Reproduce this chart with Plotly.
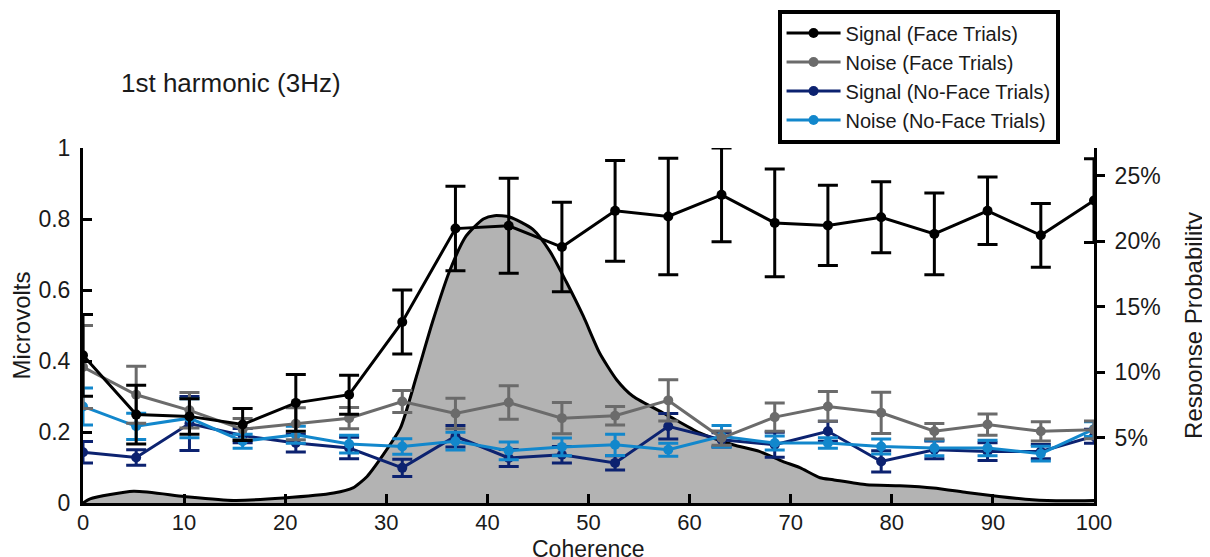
import plotly.graph_objects as go

# Coherence levels (x)
coherence = [0, 5.26, 10.53, 15.79, 21.05, 26.32, 31.58, 36.84, 42.11, 47.37,
             52.63, 57.89, 63.16, 68.42, 73.68, 78.95, 84.21, 89.47, 94.74, 100]

# Microvolts (left axis)
signal_face = [0.416, 0.249, 0.244, 0.221, 0.282, 0.305, 0.510, 0.773, 0.781, 0.721,
               0.823, 0.807, 0.868, 0.789, 0.782, 0.805, 0.758, 0.823, 0.754, 0.852]
signal_face_err = [0.115, 0.083, 0.050, 0.045, 0.080, 0.055, 0.090, 0.119, 0.134, 0.126,
                   0.142, 0.164, 0.132, 0.152, 0.113, 0.100, 0.115, 0.095, 0.090, 0.118]

noise_face = [0.383, 0.305, 0.261, 0.208, 0.223, 0.239, 0.286, 0.252, 0.283, 0.239,
              0.246, 0.289, 0.183, 0.242, 0.272, 0.254, 0.202, 0.221, 0.202, 0.206]
noise_face_err = [0.117, 0.080, 0.050, 0.030, 0.045, 0.030, 0.031, 0.043, 0.047, 0.044,
                  0.026, 0.058, 0.020, 0.040, 0.042, 0.058, 0.022, 0.030, 0.027, 0.025]

signal_noface = [0.143, 0.128, 0.224, 0.190, 0.169, 0.155, 0.099, 0.188, 0.127, 0.136,
                 0.113, 0.216, 0.178, 0.164, 0.202, 0.117, 0.150, 0.145, 0.145, 0.188]
signal_noface_err = [0.030, 0.022, 0.076, 0.020, 0.025, 0.030, 0.024, 0.030, 0.024, 0.023,
                     0.020, 0.036, 0.020, 0.035, 0.028, 0.030, 0.025, 0.025, 0.020, 0.020]

noise_noface = [0.272, 0.216, 0.239, 0.174, 0.192, 0.166, 0.159, 0.174, 0.147, 0.158,
                0.164, 0.150, 0.188, 0.169, 0.169, 0.159, 0.155, 0.155, 0.139, 0.208]
noise_noface_err = [0.052, 0.037, 0.055, 0.020, 0.024, 0.025, 0.022, 0.025, 0.025, 0.025,
                    0.030, 0.018, 0.030, 0.020, 0.015, 0.021, 0.022, 0.022, 0.021, 0.021]

# Response probability density (right axis, %)
prob_x = [0, 0.7, 5, 10, 14.9, 19.8, 24.8, 26.7, 28.1, 29.7, 31.4, 33, 34.6, 36.3, 37.9,
          39.6, 40.7, 42.2, 44.5, 46.2, 47.8, 49.5, 51.1, 52.8, 54.4, 57.7, 61, 64.3,
          66.9, 69.2, 70.9, 72.9, 74.2, 77.5, 80.8, 84.1, 87.4, 90.6, 93.9, 97.2, 100]
prob_pct = [0, 0.31, 0.89, 0.50, 0.20, 0.38, 0.76, 1.15, 2.03, 3.69, 5.73, 9.72, 13.9,
            17.8, 20.4, 21.7, 21.95, 21.85, 20.9, 19.2, 16.9, 14.25, 11.46, 9.4, 8.15,
            6.75, 5.35, 4.45, 3.94, 3.18, 2.7, 1.93, 1.78, 1.4, 1.32, 1.15, 0.81, 0.50,
            0.25, 0.17, 0.2]

right_ticks = [5, 10, 15, 20, 25]
right_tick_labels = ["5%", "10%", "15%", "20%", "25%"]
left_ticks = [0, 0.2, 0.4, 0.6, 0.8, 1]
left_tick_labels = ["0", "0.2", "0.4", "0.6", "0.8", "1"]
x_ticks = [0, 10, 20, 30, 40, 50, 60, 70, 80, 90, 100]

FONT = "Liberation Sans, Arial, Helvetica, sans-serif"

fig = go.Figure()

# Response probability (drawn first, underneath)
fig.add_trace(go.Scatter(
    x=prob_x, y=prob_pct, yaxis="y", mode="lines",
    line=dict(color="black", width=3, shape="spline", smoothing=0.6),
    fill="tozeroy", fillcolor="#b3b3b3", showlegend=False, hoverinfo="skip"))

series = [
    ("Signal (No-Face Trials)", signal_noface, signal_noface_err, "#0c2270", 3),
    ("Noise (No-Face Trials)", noise_noface, noise_noface_err, "#1287cc", 4),
    ("Noise (Face Trials)", noise_face, noise_face_err, "#6b6b6b", 2),
    ("Signal (Face Trials)", signal_face, signal_face_err, "#000000", 1),
]
for name, vals, errs, col, rank in series:
    fig.add_trace(go.Scatter(
        x=coherence, y=vals, yaxis="y2", name=name, mode="lines+markers",
        line=dict(color=col, width=3), marker=dict(color=col, size=10),
        error_y=dict(type="data", array=errs, visible=True, color=col,
                     thickness=3, width=10),
        legendrank=rank))

fig.add_annotation(text="1st harmonic (3Hz)", xref="paper", yref="paper",
                   x=0.146, y=1.184, xanchor="center", yanchor="middle",
                   showarrow=False, font=dict(size=26, color="#1a1a1a", family=FONT))

# x-axis title as an annotation so it can sit just below the tick labels
fig.add_annotation(text="Coherence", xref="paper", yref="paper",
                   x=0.5, y=-0.088, xanchor="center", yanchor="top",
                   showarrow=False, font=dict(size=23, color="#1a1a1a", family=FONT))

# page has an 8px body margin, so the figure is made 8px smaller in each direction
fig.update_layout(
    width=1202, height=549,
    margin=dict(l=75, r=116, t=140, b=54, autoexpand=False),
    paper_bgcolor="white", plot_bgcolor="white",
    font=dict(family=FONT, color="#1a1a1a", size=23),
    xaxis=dict(range=[0, 100], tickvals=x_ticks, ticks="inside", ticklen=9,
               tickwidth=3, tickcolor="black", showline=True, linewidth=3,
               linecolor="black", showgrid=False, zeroline=False, automargin=False,
               tickfont=dict(size=22), ticklabelstandoff=-2),
    yaxis=dict(side="right", range=[0, 27.12], tickmode="array", tickvals=right_ticks,
               ticktext=right_tick_labels,
               ticks="outside", ticklen=8, tickwidth=3, tickcolor="black",
               showline=True, linewidth=3, linecolor="black", showgrid=False,
               zeroline=False, automargin=False, tickfont=dict(size=23),
               ticklabelstandoff=5,
               title=dict(text="Response Probability", font=dict(size=24), standoff=26)),
    yaxis2=dict(side="left", overlaying="y", range=[0, 1], tickmode="array",
                tickvals=left_ticks, ticktext=left_tick_labels,
                ticks="inside", ticklen=9, tickwidth=3, tickcolor="black",
                showline=True, linewidth=3, linecolor="black", showgrid=False,
                zeroline=False, automargin=False, tickfont=dict(size=23),
                ticklabelstandoff=5,
                title=dict(text="Microvolts", font=dict(size=24), standoff=6)),
    legend=dict(x=0.687, y=1.39, xanchor="left", yanchor="top",
                bgcolor="white", bordercolor="black", borderwidth=4,
                font=dict(size=20, color="#1a1a1a"), itemwidth=54,
                tracegroupgap=0),
    showlegend=True,
)

fig.write_html("out.html")
